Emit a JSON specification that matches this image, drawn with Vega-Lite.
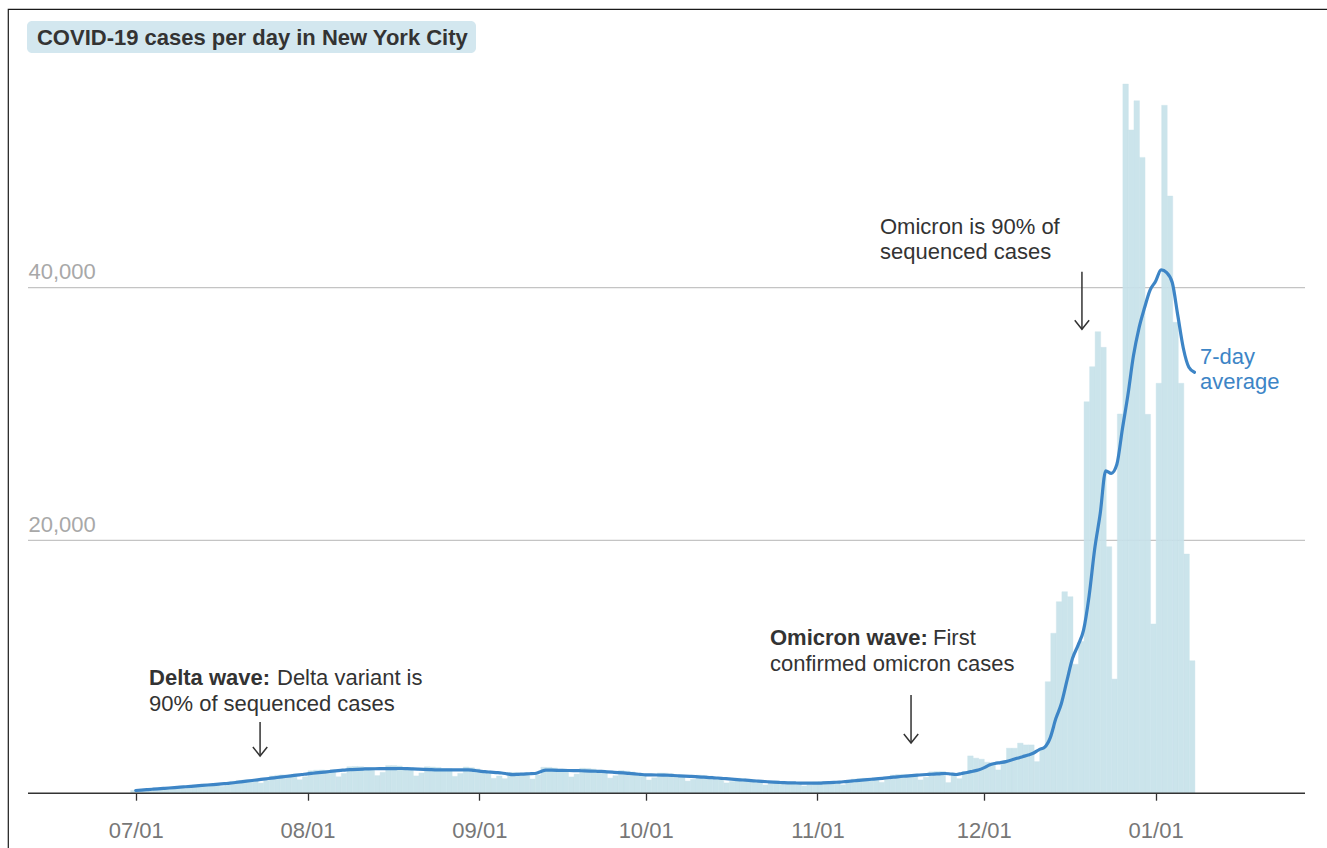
{
  "$schema": "https://vega.github.io/schema/vega-lite/v6.json",
  "width": 1322,
  "height": 842,
  "autosize": {"type": "none"},
  "padding": {"left": 8, "top": 9, "right": -3, "bottom": -3},
  "background": "#ffffff",
  "config": {
    "font": "Liberation Sans",
    "view": {"stroke": "#1a1a1a", "strokeWidth": 1.2}
  },
  "datasets": {
    "gridlines": [
      {"start": "2021-06-11T13:40:00Z", "end": "2022-01-27T22:50:00Z", "v": 20000},
      {"start": "2021-06-11T13:40:00Z", "end": "2022-01-27T22:50:00Z", "v": 40000}
    ],
    "baseline": [
      {"start": "2021-06-11T13:40:00Z", "end": "2022-01-27T22:50:00Z", "v": 0}
    ],
    "daily": [
      {"date": "2021-06-30", "cases": 225, "avg": 214},
      {"date": "2021-07-01", "cases": 259, "avg": 247},
      {"date": "2021-07-02", "cases": 201, "avg": 279},
      {"date": "2021-07-03", "cases": 187, "avg": 312},
      {"date": "2021-07-04", "cases": 276, "avg": 345},
      {"date": "2021-07-05", "cases": 422, "avg": 377},
      {"date": "2021-07-06", "cases": 451, "avg": 410},
      {"date": "2021-07-07", "cases": 464, "avg": 442},
      {"date": "2021-07-08", "cases": 499, "avg": 475},
      {"date": "2021-07-09", "cases": 367, "avg": 510},
      {"date": "2021-07-10", "cases": 463, "avg": 545},
      {"date": "2021-07-11", "cases": 650, "avg": 580},
      {"date": "2021-07-12", "cases": 689, "avg": 615},
      {"date": "2021-07-13", "cases": 715, "avg": 650},
      {"date": "2021-07-14", "cases": 719, "avg": 685},
      {"date": "2021-07-15", "cases": 756, "avg": 720},
      {"date": "2021-07-16", "cases": 544, "avg": 755},
      {"date": "2021-07-17", "cases": 672, "avg": 790},
      {"date": "2021-07-18", "cases": 945, "avg": 844},
      {"date": "2021-07-19", "cases": 1006, "avg": 898},
      {"date": "2021-07-20", "cases": 1047, "avg": 952},
      {"date": "2021-07-21", "cases": 1056, "avg": 1006},
      {"date": "2021-07-22", "cases": 1113, "avg": 1060},
      {"date": "2021-07-23", "cases": 801, "avg": 1112},
      {"date": "2021-07-24", "cases": 989, "avg": 1164},
      {"date": "2021-07-25", "cases": 1362, "avg": 1216},
      {"date": "2021-07-26", "cases": 1420, "avg": 1268},
      {"date": "2021-07-27", "cases": 1452, "avg": 1320},
      {"date": "2021-07-28", "cases": 1443, "avg": 1374},
      {"date": "2021-07-29", "cases": 1499, "avg": 1428},
      {"date": "2021-07-30", "cases": 1066, "avg": 1481},
      {"date": "2021-07-31", "cases": 1305, "avg": 1535},
      {"date": "2021-08-01", "cases": 1770, "avg": 1580},
      {"date": "2021-08-02", "cases": 1820, "avg": 1625},
      {"date": "2021-08-03", "cases": 1837, "avg": 1670},
      {"date": "2021-08-04", "cases": 1801, "avg": 1715},
      {"date": "2021-08-05", "cases": 1848, "avg": 1760},
      {"date": "2021-08-06", "cases": 1300, "avg": 1805},
      {"date": "2021-08-07", "cases": 1573, "avg": 1850},
      {"date": "2021-08-08", "cases": 2094, "avg": 1870},
      {"date": "2021-08-09", "cases": 2117, "avg": 1890},
      {"date": "2021-08-10", "cases": 2101, "avg": 1910},
      {"date": "2021-08-11", "cases": 2027, "avg": 1930},
      {"date": "2021-08-12", "cases": 2031, "avg": 1934},
      {"date": "2021-08-13", "cases": 1395, "avg": 1938},
      {"date": "2021-08-14", "cases": 1652, "avg": 1943},
      {"date": "2021-08-15", "cases": 2181, "avg": 1947},
      {"date": "2021-08-16", "cases": 2185, "avg": 1951},
      {"date": "2021-08-17", "cases": 2151, "avg": 1955},
      {"date": "2021-08-18", "cases": 2034, "avg": 1937},
      {"date": "2021-08-19", "cases": 2014, "avg": 1918},
      {"date": "2021-08-20", "cases": 1368, "avg": 1900},
      {"date": "2021-08-21", "cases": 1601, "avg": 1883},
      {"date": "2021-08-22", "cases": 2091, "avg": 1867},
      {"date": "2021-08-23", "cases": 2072, "avg": 1850},
      {"date": "2021-08-24", "cases": 2035, "avg": 1850},
      {"date": "2021-08-25", "cases": 1943, "avg": 1850},
      {"date": "2021-08-26", "cases": 1943, "avg": 1850},
      {"date": "2021-08-27", "cases": 1332, "avg": 1850},
      {"date": "2021-08-28", "cases": 1573, "avg": 1850},
      {"date": "2021-08-29", "cases": 2072, "avg": 1850},
      {"date": "2021-08-30", "cases": 2016, "avg": 1800},
      {"date": "2021-08-31", "cases": 1925, "avg": 1750},
      {"date": "2021-09-01", "cases": 1785, "avg": 1700},
      {"date": "2021-09-02", "cases": 1750, "avg": 1667},
      {"date": "2021-09-03", "cases": 1176, "avg": 1633},
      {"date": "2021-09-04", "cases": 1360, "avg": 1600},
      {"date": "2021-09-05", "cases": 1151, "avg": 1535},
      {"date": "2021-09-06", "cases": 1646, "avg": 1470},
      {"date": "2021-09-07", "cases": 1641, "avg": 1492},
      {"date": "2021-09-08", "cases": 1591, "avg": 1515},
      {"date": "2021-09-09", "cases": 1615, "avg": 1538},
      {"date": "2021-09-10", "cases": 1123, "avg": 1560},
      {"date": "2021-09-11", "cases": 1441, "avg": 1695},
      {"date": "2021-09-12", "cases": 2050, "avg": 1830},
      {"date": "2021-09-13", "cases": 2041, "avg": 1822},
      {"date": "2021-09-14", "cases": 1994, "avg": 1813},
      {"date": "2021-09-15", "cases": 1895, "avg": 1805},
      {"date": "2021-09-16", "cases": 1887, "avg": 1797},
      {"date": "2021-09-17", "cases": 1287, "avg": 1788},
      {"date": "2021-09-18", "cases": 1513, "avg": 1780},
      {"date": "2021-09-19", "cases": 1977, "avg": 1765},
      {"date": "2021-09-20", "cases": 1960, "avg": 1750},
      {"date": "2021-09-21", "cases": 1909, "avg": 1735},
      {"date": "2021-09-22", "cases": 1806, "avg": 1720},
      {"date": "2021-09-23", "cases": 1775, "avg": 1690},
      {"date": "2021-09-24", "cases": 1195, "avg": 1660},
      {"date": "2021-09-25", "cases": 1386, "avg": 1630},
      {"date": "2021-09-26", "cases": 1792, "avg": 1600},
      {"date": "2021-09-27", "cases": 1752, "avg": 1564},
      {"date": "2021-09-28", "cases": 1681, "avg": 1528},
      {"date": "2021-09-29", "cases": 1566, "avg": 1491},
      {"date": "2021-09-30", "cases": 1528, "avg": 1455},
      {"date": "2021-10-01", "cases": 1041, "avg": 1446},
      {"date": "2021-10-02", "cases": 1222, "avg": 1438},
      {"date": "2021-10-03", "cases": 1600, "avg": 1429},
      {"date": "2021-10-04", "cases": 1590, "avg": 1420},
      {"date": "2021-10-05", "cases": 1538, "avg": 1398},
      {"date": "2021-10-06", "cases": 1444, "avg": 1375},
      {"date": "2021-10-07", "cases": 1421, "avg": 1353},
      {"date": "2021-10-08", "cases": 958, "avg": 1330},
      {"date": "2021-10-09", "cases": 1108, "avg": 1304},
      {"date": "2021-10-10", "cases": 1431, "avg": 1278},
      {"date": "2021-10-11", "cases": 1402, "avg": 1252},
      {"date": "2021-10-12", "cases": 1349, "avg": 1226},
      {"date": "2021-10-13", "cases": 1260, "avg": 1200},
      {"date": "2021-10-14", "cases": 1223, "avg": 1165},
      {"date": "2021-10-15", "cases": 814, "avg": 1130},
      {"date": "2021-10-16", "cases": 931, "avg": 1095},
      {"date": "2021-10-17", "cases": 1187, "avg": 1060},
      {"date": "2021-10-18", "cases": 1151, "avg": 1028},
      {"date": "2021-10-19", "cases": 1095, "avg": 995},
      {"date": "2021-10-20", "cases": 1011, "avg": 963},
      {"date": "2021-10-21", "cases": 977, "avg": 930},
      {"date": "2021-10-22", "cases": 652, "avg": 905},
      {"date": "2021-10-23", "cases": 748, "avg": 880},
      {"date": "2021-10-24", "cases": 958, "avg": 855},
      {"date": "2021-10-25", "cases": 930, "avg": 830},
      {"date": "2021-10-26", "cases": 902, "avg": 820},
      {"date": "2021-10-27", "cases": 851, "avg": 810},
      {"date": "2021-10-28", "cases": 840, "avg": 800},
      {"date": "2021-10-29", "cases": 574, "avg": 797},
      {"date": "2021-10-30", "cases": 674, "avg": 793},
      {"date": "2021-10-31", "cases": 885, "avg": 790},
      {"date": "2021-11-01", "cases": 911, "avg": 813},
      {"date": "2021-11-02", "cases": 919, "avg": 835},
      {"date": "2021-11-03", "cases": 901, "avg": 858},
      {"date": "2021-11-04", "cases": 924, "avg": 880},
      {"date": "2021-11-05", "cases": 662, "avg": 920},
      {"date": "2021-11-06", "cases": 816, "avg": 960},
      {"date": "2021-11-07", "cases": 1120, "avg": 1000},
      {"date": "2021-11-08", "cases": 1163, "avg": 1038},
      {"date": "2021-11-09", "cases": 1183, "avg": 1075},
      {"date": "2021-11-10", "cases": 1169, "avg": 1113},
      {"date": "2021-11-11", "cases": 1208, "avg": 1150},
      {"date": "2021-11-12", "cases": 859, "avg": 1193},
      {"date": "2021-11-13", "cases": 1050, "avg": 1235},
      {"date": "2021-11-14", "cases": 1431, "avg": 1278},
      {"date": "2021-11-15", "cases": 1478, "avg": 1320},
      {"date": "2021-11-16", "cases": 1491, "avg": 1355},
      {"date": "2021-11-17", "cases": 1460, "avg": 1390},
      {"date": "2021-11-18", "cases": 1496, "avg": 1425},
      {"date": "2021-11-19", "cases": 1051, "avg": 1460},
      {"date": "2021-11-20", "cases": 1262, "avg": 1485},
      {"date": "2021-11-21", "cases": 1691, "avg": 1510},
      {"date": "2021-11-22", "cases": 1719, "avg": 1535},
      {"date": "2021-11-23", "cases": 1716, "avg": 1560},
      {"date": "2021-11-24", "cases": 840, "avg": 1520},
      {"date": "2021-11-25", "cases": 1450, "avg": 1480},
      {"date": "2021-11-26", "cases": 1150, "avg": 1560},
      {"date": "2021-11-27", "cases": 1700, "avg": 1640},
      {"date": "2021-11-28", "cases": 2950, "avg": 1735},
      {"date": "2021-11-29", "cases": 2770, "avg": 1830},
      {"date": "2021-11-30", "cases": 2690, "avg": 2000},
      {"date": "2021-12-01", "cases": 2450, "avg": 2230},
      {"date": "2021-12-02", "cases": 2400, "avg": 2350},
      {"date": "2021-12-03", "cases": 1840, "avg": 2420},
      {"date": "2021-12-04", "cases": 2450, "avg": 2500},
      {"date": "2021-12-05", "cases": 3560, "avg": 2620},
      {"date": "2021-12-06", "cases": 3560, "avg": 2760},
      {"date": "2021-12-07", "cases": 3960, "avg": 2890},
      {"date": "2021-12-08", "cases": 3820, "avg": 3020},
      {"date": "2021-12-09", "cases": 3820, "avg": 3180},
      {"date": "2021-12-10", "cases": 2500, "avg": 3450},
      {"date": "2021-12-11", "cases": 3575, "avg": 3650},
      {"date": "2021-12-12", "cases": 8820, "avg": 4400},
      {"date": "2021-12-13", "cases": 12650, "avg": 5900},
      {"date": "2021-12-14", "cases": 15150, "avg": 7100},
      {"date": "2021-12-15", "cases": 15940, "avg": 8900},
      {"date": "2021-12-16", "cases": 15550, "avg": 10650},
      {"date": "2021-12-17", "cases": 10200, "avg": 11700},
      {"date": "2021-12-18", "cases": 12000, "avg": 12900},
      {"date": "2021-12-19", "cases": 30970, "avg": 15600},
      {"date": "2021-12-20", "cases": 33740, "avg": 19300},
      {"date": "2021-12-21", "cases": 36510, "avg": 22100},
      {"date": "2021-12-22", "cases": 35270, "avg": 25500},
      {"date": "2021-12-23", "cases": 19500, "avg": 25300},
      {"date": "2021-12-24", "cases": 9030, "avg": 26000},
      {"date": "2021-12-25", "cases": 30000, "avg": 28800},
      {"date": "2021-12-26", "cases": 56100, "avg": 31500},
      {"date": "2021-12-27", "cases": 52470, "avg": 34600},
      {"date": "2021-12-28", "cases": 54780, "avg": 36800},
      {"date": "2021-12-29", "cases": 50300, "avg": 38400},
      {"date": "2021-12-30", "cases": 29970, "avg": 39800},
      {"date": "2021-12-31", "cases": 13390, "avg": 40500},
      {"date": "2022-01-01", "cases": 32430, "avg": 41400},
      {"date": "2022-01-02", "cases": 54420, "avg": 41180},
      {"date": "2022-01-03", "cases": 47240, "avg": 40400},
      {"date": "2022-01-04", "cases": 37250, "avg": 37800},
      {"date": "2022-01-05", "cases": 32430, "avg": 35200},
      {"date": "2022-01-06", "cases": 18920, "avg": 33700},
      {"date": "2022-01-07", "cases": 10480, "avg": 33300}
    ],
    "arrows": [
      {"date": "2021-07-23T10:30:00Z", "top": 5633, "tip": 2943},
      {"date": "2021-11-17T21:00:00Z", "top": 7769, "tip": 3971},
      {"date": "2021-12-18T17:00:00Z", "top": 41256, "tip": 36700}
    ],
    "notes_bold": [
      {"date": "2021-07-03T09:36:00Z", "v": 8560, "text": "Delta wave:"},
      {"date": "2021-10-23T10:20:00Z", "v": 11724, "text": "Omicron wave:"}
    ],
    "notes": [
      {"date": "2021-07-26T11:45:00Z", "v": 8560, "text": "Delta variant is"},
      {"date": "2021-07-03T09:36:00Z", "v": 6503, "text": "90% of sequenced cases"},
      {"date": "2021-11-21T20:10:00Z", "v": 11724, "text": "First"},
      {"date": "2021-10-23T10:20:00Z", "v": 9667, "text": "confirmed omicron cases"},
      {"date": "2021-11-12T06:40:00Z", "v": 44236, "text": "Omicron is 90% of"},
      {"date": "2021-11-12T06:40:00Z", "v": 42258, "text": "sequenced cases"}
    ],
    "avg_label": [
      {"date": "2022-01-09T00:00:00Z", "v": 33955, "text": "7-day"},
      {"date": "2022-01-09T00:00:00Z", "v": 31977, "text": "average"}
    ]
  },
  "layer": [
    {
      "data": {"name": "gridlines"},
      "mark": {"type": "rule", "color": "#c4c4c4", "strokeWidth": 1.3},
      "encoding": {
        "x": {
          "field": "start",
          "type": "temporal",
          "scale": {
            "type": "utc",
            "nice": false,
            "domain": [
              {"year": 2021, "month": 6, "date": 7, "hours": 23, "minutes": 5, "utc": true},
              {"year": 2022, "month": 2, "date": 1, "hours": 11, "minutes": 2, "utc": true}
            ]
          },
          "axis": {
            "title": null,
            "values": [
              {"year": 2021, "month": 7, "date": 1, "utc": true},
              {"year": 2021, "month": 8, "date": 1, "utc": true},
              {"year": 2021, "month": 9, "date": 1, "utc": true},
              {"year": 2021, "month": 10, "date": 1, "utc": true},
              {"year": 2021, "month": 11, "date": 1, "utc": true},
              {"year": 2021, "month": 12, "date": 1, "utc": true},
              {"year": 2022, "month": 1, "date": 1, "utc": true}
            ],
            "format": "%m/%d",
            "domain": false,
            "grid": false,
            "ticks": true,
            "tickSize": 7,
            "tickWidth": 1.3,
            "tickColor": "#333333",
            "labelColor": "#777777",
            "labelFontSize": 22,
            "labelFont": "Liberation Sans",
            "labelBaseline": "alphabetic",
            "labelPadding": 37,
            "offset": -57.8
          }
        },
        "x2": {"field": "end"},
        "y": {
          "field": "v",
          "type": "quantitative",
          "scale": {"domain": [-4573, 62039], "nice": false, "zero": false},
          "axis": {
            "title": null,
            "values": [20000, 40000],
            "labelExpr": "format(datum.value, ',.0f')",
            "domain": false,
            "ticks": false,
            "tickSize": 0,
            "grid": false,
            "labelAlign": "left",
            "labelBaseline": "alphabetic",
            "labelPadding": -20,
            "labelOffset": -9,
            "labelColor": "#a8a8a8",
            "labelFontSize": 22,
            "labelFont": "Liberation Sans"
          }
        }
      }
    },
    {
      "data": {"name": "daily"},
      "mark": {"type": "bar", "color": "#c8e2ea", "opacity": 0.93, "binSpacing": 0, "stroke": "#c8e2ea", "strokeWidth": 0.4},
      "encoding": {
        "x": {"field": "date", "type": "temporal", "timeUnit": "utcyearmonthdate"},
        "y": {"field": "cases", "type": "quantitative"},
        "y2": {"datum": 0}
      }
    },
    {
      "data": {"name": "baseline"},
      "mark": {"type": "rule", "color": "#333333", "strokeWidth": 1.6},
      "encoding": {
        "x": {"field": "start", "type": "temporal"},
        "x2": {"field": "end"},
        "y": {"field": "v", "type": "quantitative"}
      }
    },
    {
      "data": {"name": "daily"},
      "mark": {"type": "line", "color": "#3d85c6", "strokeWidth": 3.2, "interpolate": "monotone", "strokeCap": "round"},
      "encoding": {
        "x": {"field": "date", "type": "temporal", "timeUnit": "utcyearmonthdate", "bandPosition": 1},
        "y": {"field": "avg", "type": "quantitative"}
      }
    },
    {
      "data": {"name": "arrows"},
      "mark": {"type": "rule", "color": "#333333", "strokeWidth": 1.5},
      "encoding": {
        "x": {"field": "date", "type": "temporal"},
        "y": {"field": "top", "type": "quantitative"},
        "y2": {"field": "tip"}
      }
    },
    {
      "data": {"name": "arrows"},
      "mark": {"type": "point", "shape": "M-0.8,-1L0,0L0.8,-1", "size": 324, "filled": false, "stroke": "#333333", "strokeWidth": 1.5, "opacity": 1},
      "encoding": {
        "x": {"field": "date", "type": "temporal"},
        "y": {"field": "tip", "type": "quantitative"}
      }
    },
    {
      "data": {"name": "notes_bold"},
      "mark": {"type": "text", "align": "left", "baseline": "alphabetic", "fontSize": 22, "fontWeight": "bold", "color": "#333333"},
      "encoding": {
        "x": {"field": "date", "type": "temporal"},
        "y": {"field": "v", "type": "quantitative"},
        "text": {"field": "text"}
      }
    },
    {
      "data": {"name": "notes"},
      "mark": {"type": "text", "align": "left", "baseline": "alphabetic", "fontSize": 22, "color": "#333333"},
      "encoding": {
        "x": {"field": "date", "type": "temporal"},
        "y": {"field": "v", "type": "quantitative"},
        "text": {"field": "text"}
      }
    },
    {
      "data": {"name": "avg_label"},
      "mark": {"type": "text", "align": "left", "baseline": "alphabetic", "fontSize": 22, "color": "#3d85c6"},
      "encoding": {
        "x": {"field": "date", "type": "temporal"},
        "y": {"field": "v", "type": "quantitative"},
        "text": {"field": "text"}
      }
    },
    {
      "data": {"values": [{}]},
      "mark": {"type": "rect", "color": "#d3e7ef", "cornerRadius": 5},
      "encoding": {
        "x": {"datum": {"year": 2021, "month": 6, "date": 11, "hours": 9, "minutes": 20, "utc": true}, "type": "temporal"},
        "x2": {"datum": {"year": 2021, "month": 8, "date": 31, "hours": 9, "minutes": 20, "utc": true}},
        "y": {"datum": 61088, "type": "quantitative"},
        "y2": {"datum": 58557}
      }
    },
    {
      "data": {"values": [{}]},
      "mark": {"type": "text", "align": "left", "baseline": "alphabetic", "fontSize": 22, "fontWeight": "bold", "color": "#333333"},
      "encoding": {
        "x": {"datum": {"year": 2021, "month": 6, "date": 13, "hours": 4, "minutes": 34, "utc": true}, "type": "temporal"},
        "y": {"datum": 59191, "type": "quantitative"},
        "text": {"value": "COVID-19 cases per day in New York City"}
      }
    }
  ]
}
